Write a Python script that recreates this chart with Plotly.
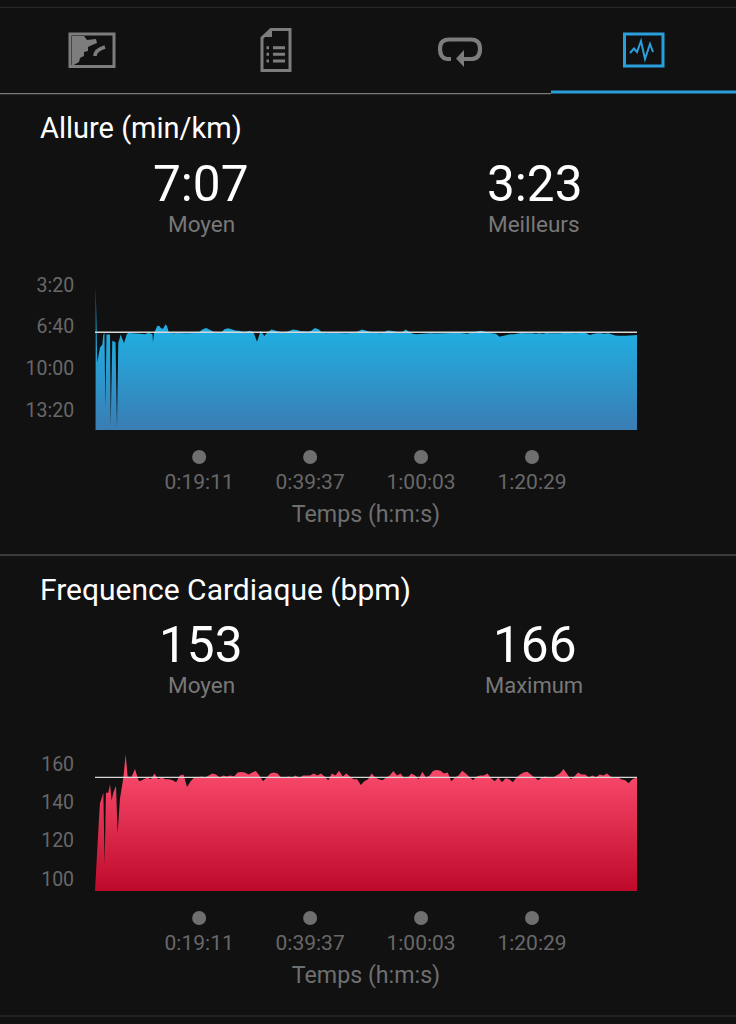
import plotly.graph_objects as go

# ---------- data ----------
tick_seconds = [1151, 2377, 3603, 4829]
tick_labels = ["0:19:11", "0:39:37", "1:00:03", "1:20:29"]

pace_ticks = [200, 400, 600, 800]
pace_tick_labels = ["3:20", "6:40", "10:00", "13:20"]
pace_avg = 427
pace_base = 896
pace_dot = 1025.6
pace_head_t = [0, 6, 8, 25, 55, 81, 92, 105, 114, 127, 166, 173, 191, 227, 243, 257, 284, 320, 350, 367,
               409, 442, 497, 552, 586, 608, 635, 641, 652, 682, 696, 713, 729, 751, 781, 796, 818]
pace_head = [896, 896, 210, 572, 500, 485, 438, 430, 790, 438, 438, 880, 468, 475, 890, 480, 438, 480, 438, 430,
             432, 432, 434, 436, 430, 432, 436, 475, 432, 402, 394, 398, 408, 410, 388, 398, 430]
pace_tail = [430, 432, 430, 429, 431, 432, 431, 430, 425, 412,
             406, 414, 424, 428, 430, 412, 408, 412, 418, 420,
             424, 424, 420, 425, 472, 420, 445, 425, 414, 418,
             424, 428, 426, 420, 414, 416, 422, 422, 424, 420,
             406, 412, 428, 432, 430, 428, 430, 432, 431, 432,
             430, 428, 422, 414, 418, 424, 428, 430, 432, 428,
             418, 420, 424, 428, 430, 414, 424, 434, 436, 434,
             432, 430, 431, 433, 432, 434, 430, 432, 430, 424,
             430, 432, 434, 430, 428, 422, 420, 424, 430, 432,
             434, 448, 444, 440, 436, 436, 432, 430, 432, 431,
             432, 434, 432, 434, 430, 431, 432, 433, 432, 428,
             430, 432, 431, 430, 426, 432, 440, 434, 431, 432,
             434, 432, 438, 442, 444, 442, 443, 442, 440]
pace_t = pace_head_t + list(range(830, 830 + 40 * len(pace_tail), 40)) + [5989, 5989]
pace_y = pace_head + pace_tail + [440, pace_base]

hr_ticks = [100, 120, 140, 160]
hr_tick_labels = ["100", "120", "140", "160"]
hr_avg = 153
hr_base = 93.7
hr_dot = 79.6
hr_head_t = [0, 18, 44, 55, 92, 107, 121, 147, 166, 184, 202, 232, 250, 276, 313, 339, 361, 405, 442, 479]
hr_head = [93.7, 112.5, 131.6, 139.5, 145, 107, 145, 145, 149.4, 141, 145, 148.7, 123.8, 142, 152.7, 165, 153.3, 153.3, 157.4, 151.6]
hr_tail = [151, 152, 153, 152, 155, 152, 153, 152, 152, 151.5,
           150.5, 154, 154.5, 148, 151, 153, 153, 153.5, 153, 154,
           155, 154.5, 153, 154, 153.5, 154, 153.5, 155.5, 155.8, 155.5,
           154.5, 155.5, 156.3, 154, 151, 153, 155, 155.5, 155, 153,
           153, 153.5, 153, 154, 152.5, 154, 154, 154, 155, 154,
           155, 153.5, 151.5, 155, 154, 156.5, 153.5, 155, 153.5, 152,
           152, 149, 151, 152, 155, 153, 152, 151.5, 153, 154,
           156.4, 154, 155, 152.5, 153, 155, 154, 152, 156, 153,
           154, 156.5, 156.8, 156.5, 155, 155.5, 151, 153, 154, 156.5,
           155, 153, 151.5, 153.5, 154, 154, 155, 152.5, 151, 153,
           150.5, 152.5, 152, 150.5, 153, 154.5, 155.5, 156, 154.5, 153,
           151.5, 153, 153.5, 153, 152.5, 154, 155, 157.4, 155, 152,
           153.5, 155.5, 154.5, 154.5, 153, 154, 153, 154.5, 154, 155,
           153.5, 152.5, 153, 152, 151.5, 150, 152, 153]
hr_t = hr_head_t + list(range(497, 497 + 40 * len(hr_tail), 40)) + [5989, 5989]
hr_y = hr_head + hr_tail + [153, hr_base]

# ---------- style ----------
W, H = 736, 1024
BG = "#111112"
GREY = "#6f6f6f"
SANS = "Roboto"
ICON = "#7d7d7d"
BLUE = "#2a9fdc"

fig = go.Figure()


def panel(xa, ya, t, y, avg, top, bottom, c1, c2, dot_y):
    fig.add_trace(go.Scatter(x=t, y=y, xaxis=xa, yaxis=ya, mode="lines", line=dict(width=0, color=c2),
                             fill="toself", hoverinfo="skip", showlegend=False,
                             fillgradient=dict(type="vertical", start=top, stop=bottom,
                                               colorscale=[[0, c1], [1, c2]])))
    fig.add_trace(go.Scatter(x=[0, 5989], y=[avg, avg], xaxis=xa, yaxis=ya, mode="lines",
                             line=dict(width=1.4, color="#d8d8d8"), hoverinfo="skip", showlegend=False))
    fig.add_trace(go.Scatter(x=tick_seconds, y=[dot_y] * 4, xaxis=xa, yaxis=ya, mode="markers",
                             marker=dict(size=14, color="#6f6f6f"), hoverinfo="skip", showlegend=False))


panel("x", "y", pace_t, pace_y, pace_avg, 427, 896, "#21ADE1", "#3A7DB3", pace_dot)
panel("x2", "y2", hr_t, hr_y, hr_avg, 153, 93.7, "#F64667", "#BE0A2A", hr_dot)
fig.add_trace(go.Scatter(x=[0], y=[0], xaxis="x3", yaxis="y3", mode="markers", marker=dict(opacity=0),
                         hoverinfo="skip", showlegend=False))


def xax(anchor):
    return dict(domain=[95 / W, 637 / W], range=[0, 5989], anchor=anchor, showgrid=False, zeroline=False, showline=False,
                tickmode="array", tickvals=tick_seconds, ticktext=tick_labels, ticks="", ticklabelstandoff=2,
                tickfont=dict(family=SANS, size=21, color="#686868"),
                title=dict(text="Temps (h:m:s)", standoff=13, font=dict(family=SANS, size=23.2, color=GREY)))


def yax(anchor, top_px, bot_px, rng, vals, text):
    return dict(domain=[1 - bot_px / H, 1 - top_px / H], range=rng, anchor=anchor, showgrid=False, zeroline=False,
                showline=False, tickmode="array", tickvals=vals, ticktext=text, ticks="outside", ticklen=16,
                tickcolor="rgba(0,0,0,0)", tickfont=dict(family=SANS, size=19.5, color="#686868"))


def path(d, fill=None, stroke=None, width=0):
    return dict(type="path", path=d, xref="x3", yref="y3", fillcolor=fill or "rgba(0,0,0,0)",
                line=dict(color=stroke or "rgba(0,0,0,0)", width=width), layer="above")


def hline(y, x0, x1, color, width):
    return dict(type="line", x0=x0, x1=x1, y0=y, y1=y, xref="x3", yref="y3", line=dict(color=color, width=width), layer="above")


shapes = [
    hline(7.3, 0, 736, "#2e2e2e", 1),
    hline(93.7, 0, 551, "#7a7a7a", 1.3),
    hline(92, 551, 736, BLUE, 3),
    hline(555, 0, 736, "#4a4a4a", 1.3),
    hline(1016, 0, 736, "#333333", 1),
    # map icon
    path("M70 34 H114 V66.5 H70 Z", None, ICON, 3),
    path("M72 36 H84 L87 40 L96 39 L97 43 L90 46 L88 47 L88 51 L84 52 L84 56 L80 58 L79 62 L72 66 Z", ICON),
    path("M95 56 Q95 50 105 47", None, ICON, 3.5),
    # document icon
    path("M271 29.5 H290 V70.5 H262 V38 Z", None, ICON, 3),
    path("M263 37 H272 V30 Z", ICON),
    path("M266.5 47.7 H269 M266.5 54.3 H269 M266.5 61 H269", None, ICON, 3),
    path("M273 47.7 H285 M273 54.3 H285 M273 61 H285", None, ICON, 3),
    # loop icon
    path("M451 59 L447 59 Q440 58 440 49 Q440 39.5 449 39.5 L471 39.5 Q480 39.5 480 49 Q480 59 471 59 L462 59",
         None, ICON, 4.2),
    path("M464 50 L464 67 L456 58.5 Z", ICON),
    # activity icon
    path("M624.5 34 H663 V66 H624.5 Z", None, BLUE, 3),
    path("M630 53 L634 48.5 L637 52 L641 41 L645 59 L650 44 L653 52", None, BLUE, 2),
]


def note(x, y, text, size, color="#ffffff", anchor="center", family=SANS):
    return dict(x=x, y=y, xref="x3", yref="y3", text=text, showarrow=False, xanchor=anchor, yanchor="middle",
                font=dict(family=family, size=size, color=color))


annotations = [
    note(38, 128, "Allure (min/km)", 29, anchor="left"),
    note(200, 184, "7:07", 49.5),
    note(534, 184, "3:23", 49.5),
    note(201, 224, "Moyen", 22.5, "#787878"),
    note(534, 224, "Meilleurs", 22.5, "#787878"),
    note(38, 589, "Frequence Cardiaque (bpm)", 30, anchor="left"),
    note(200, 645, "153", 49.5),
    note(534, 645, "166", 49.5),
    note(201, 685, "Moyen", 22.5, "#787878"),
    note(534, 685, "Maximum", 22, "#787878"),
]

fig.update_layout(
    width=W, height=H, autosize=False, margin=dict(l=0, r=0, t=0, b=0, autoexpand=False), paper_bgcolor=BG,
    plot_bgcolor="rgba(0,0,0,0)",
    showlegend=False, shapes=shapes, annotations=annotations,
    xaxis=xax("y"),
    yaxis=yax("x", 280, 464.5, [1061.6, 176], pace_ticks, pace_tick_labels),
    xaxis2=xax("y2"),
    yaxis2=yax("x2", 750, 925.5, [75.7, 167.3], hr_ticks, hr_tick_labels),
    xaxis3=dict(domain=[0, 1], range=[0, W], visible=False, anchor="y3", fixedrange=True),
    yaxis3=dict(domain=[0, 1], range=[H, 0], visible=False, anchor="x3", fixedrange=True),
)
fig.write_html("out.html", config=dict(displayModeBar=False),
               post_script="document.body.style.margin='0';document.body.style.background='#111112';")
